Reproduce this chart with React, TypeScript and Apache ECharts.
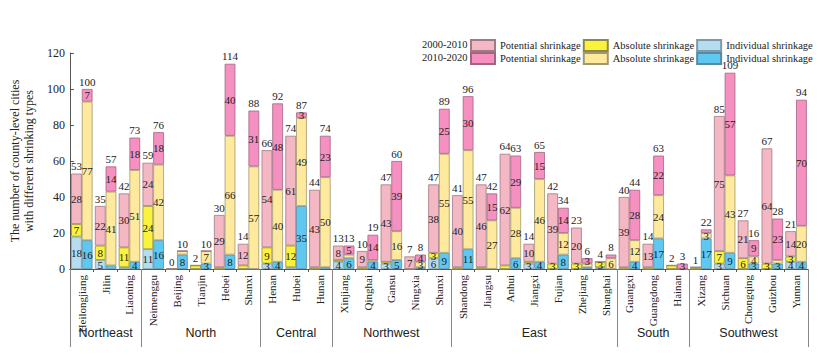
import React, { useEffect, useRef } from 'react';
import * as echarts from 'echarts';

const provinces = ['Heilongjiang', 'Jilin', 'Liaoning', 'Neimenggu', 'Beijing', 'Tianjin', 'Hebei', 'Shanxi', 'Henan', 'Hubei', 'Hunan', 'Xinjiang', 'Qinghai', 'Gansu', 'Ningxia', 'Shanxi', 'Shandong', 'Jiangsu', 'Anhui', 'Jiangxi', 'Fujian', 'Zhejiang', 'Shanghai', 'Guangxi', 'Guangdong', 'Hainan', 'Xizang', 'Sichuan', 'Chongqing', 'Guizhou', 'Yunnan'];
const regionNames = ['Northeast', 'North', 'Central', 'Northwest', 'East', 'South', 'Southwest'];
const regionSizes = [3, 5, 3, 5, 7, 3, 5];

const individual2000 = [18, 5, 1, 11, 0, 0, 0, 0, 3, 1, 0, 4, 0, 3, 0, 6, 0, 0, 0, 3, 0, 0, 1, 0, 0, 0, 0, 3, 0, 0, 4];
const absolute2000 = [7, 8, 11, 24, 0, 2, 1, 2, 9, 12, 1, 1, 1, 1, 0, 3, 1, 1, 2, 1, 3, 3, 3, 1, 1, 2, 1, 7, 6, 3, 3];
const potential2000 = [28, 22, 30, 24, 0, 0, 29, 12, 54, 61, 43, 8, 9, 43, 7, 38, 40, 46, 62, 10, 39, 20, 0, 39, 13, 0, 0, 75, 21, 64, 14];

const individual2010 = [16, 2, 4, 16, 8, 3, 8, 0, 4, 35, 1, 6, 4, 5, 1, 9, 11, 0, 6, 4, 8, 1, 0, 4, 17, 0, 17, 9, 3, 3, 4];
const absolute2010 = [77, 41, 51, 42, 2, 7, 66, 57, 40, 49, 50, 2, 1, 16, 3, 55, 55, 27, 28, 46, 12, 2, 6, 12, 24, 0, 3, 43, 4, 2, 20];
const potential2010 = [7, 14, 18, 18, 0, 0, 40, 31, 48, 3, 23, 5, 14, 39, 4, 25, 30, 15, 29, 15, 14, 3, 2, 28, 22, 3, 2, 57, 9, 23, 70];

const yTicks = [0, 20, 40, 60, 80, 100, 120];

const SERIF = 'Liberation Serif';
const SANS = 'Liberation Sans';

export default function App() {
  const ref = useRef<HTMLDivElement>(null);
  useEffect(() => {
    const chart = echarts.init(ref.current!, null, { renderer: 'svg' });

    const totals2000 = provinces.map((_, i) => individual2000[i] + absolute2000[i] + potential2000[i]);
    const totals2010 = provinces.map((_, i) => individual2010[i] + absolute2010[i] + potential2010[i]);
    const zeros = provinces.map(() => 0);

    const starts: number[] = [];
    const middles: number[] = [];
    let acc = 0;
    regionSizes.forEach((s) => {
      starts.push(acc);
      middles.push(acc + (s - 1) / 2);
      acc += s;
    });
    const regionAt: Record<number, string> = {};
    middles.forEach((m, k) => { regionAt[m] = regionNames[k]; });

    const seg = (name: string, stack: string, data: number[], color: string, border: string) => ({
      name,
      type: 'bar',
      stack,
      data,
      barGap: '0%',
      barCategoryGap: '10%',
      itemStyle: { color, borderColor: border, borderWidth: 0.8 },
      label: {
        show: true,
        position: 'inside',
        formatter: (p: any) => (p.value >= 3 ? String(p.value) : ''),
        fontSize: 11,
        fontFamily: SERIF,
        color: '#222',
      },
    });

    const totalSeries = (name: string, stack: string, totals: number[]) => ({
      name,
      type: 'bar',
      stack,
      data: zeros,
      barGap: '0%',
      barCategoryGap: '10%',
      silent: true,
      itemStyle: { color: 'transparent' },
      label: {
        show: true,
        position: 'top',
        distance: 2,
        formatter: (p: any) => String(totals[p.dataIndex]),
        fontSize: 11,
        fontFamily: SERIF,
        color: '#222',
      },
    });

    const legendCommon = {
      left: 470,
      orient: 'horizontal',
      itemWidth: 24,
      itemHeight: 11,
      itemGap: 2,
      icon: 'rect',
      selectedMode: false,
      padding: 0,
      formatter: (n: string) => n.split('|')[1],
      textStyle: { fontFamily: SERIF, fontSize: 10.5, color: '#222' },
    };

    chart.setOption({
      animation: false,
      grid: { left: 58, right: 14, top: 53, bottom: 86, containLabel: false },
      legend: [
        { ...legendCommon, top: 39, data: ['2000-2010|Potential shrinkage', '2000-2010|Absolute shrinkage', '2000-2010|Individual shrinkage'] },
        { ...legendCommon, top: 52, data: ['2010-2020|Potential shrinkage', '2010-2020|Absolute shrinkage', '2010-2020|Individual shrinkage'] },
      ],
      graphic: [
        { type: 'text', left: 422, top: 39, style: { text: '2000-2010', fontFamily: SERIF, fontSize: 10.5, fill: '#222' } },
        { type: 'text', left: 422, top: 52, style: { text: '2010-2020', fontFamily: SERIF, fontSize: 10.5, fill: '#222' } },
      ],
      xAxis: [
        {
          type: 'category',
          data: provinces,
          axisLine: { lineStyle: { color: '#555', width: 1 } },
          axisTick: { show: true, length: 3, lineStyle: { color: '#555' } },
          axisLabel: { rotate: 90, interval: 0, margin: 6, fontFamily: SERIF, fontSize: 11, color: '#222' },
        },
        {
          type: 'category',
          data: provinces,
          position: 'bottom',
          axisLine: { show: false },
          axisTick: {
            show: true,
            length: 78,
            interval: (i: number) => starts.indexOf(i) >= 0,
            lineStyle: { color: '#888', width: 1 },
          },
          axisLabel: {
            interval: 0,
            margin: 57,
            formatter: (_v: string, i: number) => regionAt[i] || '',
            fontFamily: SANS,
            fontSize: 12.5,
            color: '#222',
          },
        },
      ],
      yAxis: {
        type: 'value',
        min: yTicks[0],
        max: yTicks[yTicks.length - 1],
        interval: 20,
        name: 'The number of county-level cities\nwith different shrinking types',
        nameLocation: 'middle',
        nameGap: 19,
        nameTextStyle: { fontFamily: SERIF, fontSize: 12, lineHeight: 14, color: '#222' },
        axisLine: { show: true, lineStyle: { color: '#555' } },
        axisTick: { show: true, inside: true, length: 4, lineStyle: { color: '#555' } },
        splitLine: { show: false },
        axisLabel: { margin: 5, fontFamily: SERIF, fontSize: 12, color: '#222' },
      },
      series: [
        seg('2000-2010|Individual shrinkage', 'a', individual2000, '#B5DCEF', '#7f9aa8'),
        seg('2000-2010|Absolute shrinkage', 'a', absolute2000, '#FAF23C', '#8f8a40'),
        seg('2000-2010|Potential shrinkage', 'a', potential2000, '#F4B7C4', '#a07a84'),
        totalSeries('t2000', 'a', totals2000),
        seg('2010-2020|Individual shrinkage', 'b', individual2010, '#5EC8F0', '#5a8aa0'),
        seg('2010-2020|Absolute shrinkage', 'b', absolute2010, '#FFE99C', '#a09870'),
        seg('2010-2020|Potential shrinkage', 'b', potential2010, '#F590C1', '#a06680'),
        totalSeries('t2010', 'b', totals2010),
      ],
    });
    return () => chart.dispose();
  }, []);
  return <div ref={ref} style={{ position: 'absolute', left: 0, top: 0, width: 822, height: 355 }} />;
}
